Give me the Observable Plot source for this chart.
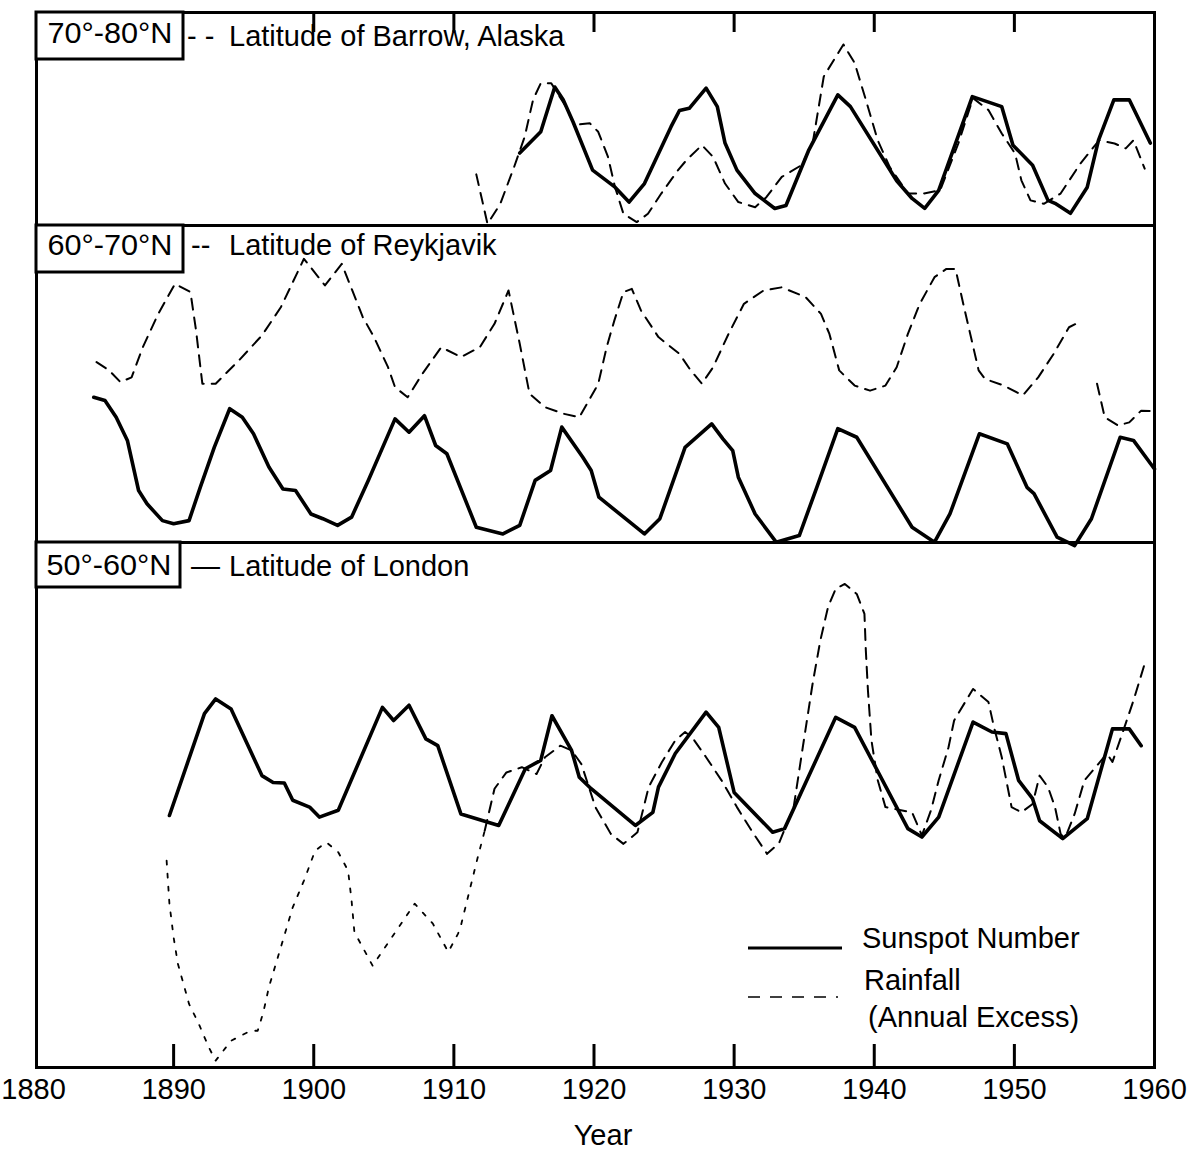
<!DOCTYPE html>
<html><head><meta charset="utf-8">
<script src="https://cdn.jsdelivr.net/npm/d3@7"></script>
<script src="https://cdn.jsdelivr.net/npm/@observablehq/plot@0.6"></script>
<style>
body{margin:0;background:#fff;}
#chart{position:relative;width:1189px;height:1152px;font-family:"Liberation Sans",Arial,Helvetica,sans-serif;color:#000;background:#fff;}
#chart svg{display:block;overflow:visible;}
#overlay{position:absolute;left:0;top:0;}
</style></head><body><div id="chart"></div>
<script>
// ---------- data (relative values: 0 = panel floor, 100 = panel top) ----------
// Panel 1: 70°-80°N, Barrow
const barrowSunYears = [1914.7,1916.2,1917.2,1917.8,1918.5,1919.9,1921.5,1922.5,1923.6,1925.5,1926.1,1926.8,1928.0,1928.8,1929.35,1930.2,1931.5,1932.9,1933.7,1935.3,1937.4,1938.3,1941.6,1942.7,1943.6,1944.6,1947.0,1949.1,1949.9,1951.3,1952.4,1952.9,1954.0,1955.2,1956.0,1957.1,1958.2,1959.7];
const barrowSunVals  = [34,44,65,59,48.7,26,18,11,19.7,46.4,54,55,64.5,55.8,38.7,26,15,8,9.4,35,61.3,55.8,21,12.7,8,16.5,60.5,55.8,37.7,28.3,11.8,10.4,5.7,18,40,59,59,38.7];
const barrowRainYears = [1911.6,1912.4,1913.3,1914.3,1915.05,1915.65,1916.2,1916.95,1917.4,1918.0,1918.6,1919.7,1920.3,1921.0,1921.5,1922.1,1923.05,1923.85,1924.8,1926.0,1926.6,1927.7,1928.5,1929.35,1930.3,1931.5,1932.3,1933.4,1934.8,1935.6,1936.4,1937.8,1938.6,1939.4,1940.25,1941.1,1942.4,1943.5,1944.7,1946.0,1947.05,1948.15,1949.1,1950.05,1950.5,1951.15,1952.1,1953.3,1954.7,1956.05,1957.15,1957.95,1958.5,1959.3];
const barrowRainVals  = [24,0.8,10,27.5,41.6,59,66.8,66.8,62,55.8,47.2,48,44,32.2,18,5.5,1.6,5.5,15,26,30.7,37.7,32.2,19.7,11,8.6,13.3,22.8,28.3,38.5,70,85,76.3,59,40,27.5,15,15,16.5,38.5,59.8,54.2,43.2,33.8,21.2,11.8,10.2,15,29,40,38.5,36.2,40,26.7];

// Panel 2: 60°-70°N, Reykjavik
const reykSunYears = [1884.3,1885.1,1885.9,1886.7,1887.5,1888.1,1889.2,1890.0,1891.1,1891.9,1892.9,1894.0,1894.9,1895.7,1896.8,1897.8,1898.7,1899.8,1900.65,1901.7,1902.7,1903.9,1905.8,1906.8,1907.9,1908.7,1909.5,1911.6,1913.5,1914.7,1915.8,1916.9,1917.7,1919.2,1919.8,1920.35,1923.6,1924.7,1926.5,1928.4,1929.2,1929.9,1930.3,1931.5,1933.0,1934.65,1935.9,1937.4,1938.75,1942.7,1944.3,1945.4,1947.5,1949.5,1950.9,1951.4,1953.05,1954.3,1955.5,1957.55,1958.5,1960];
const reykSunVals  = [45.8,44.8,39.5,32.2,16.4,12.2,6.9,5.9,6.9,17.4,30,42.2,39.5,34.3,23.8,16.9,16.4,9,7.5,5.4,8,19.6,39,34.8,40,30.6,28,4.8,2.7,5.4,19.6,22.7,36.4,26.9,22.7,14.3,2.7,7.5,30,37.4,32.7,29,20.6,9,0.1,2.2,17.4,35.9,33.2,4.8,0.1,9,34.3,31.1,17.4,15.4,1.7,-1,7.5,33.2,32.2,23.2];
const reykRainYears = [1884.5,1885.4,1886.2,1887.0,1887.8,1888.9,1890.1,1891.2,1891.6,1892.05,1893.0,1894.65,1896.3,1897.65,1899.3,1900.8,1902.0,1903.5,1904.3,1905.3,1905.8,1906.7,1907.75,1909.1,1910.5,1911.85,1912.9,1913.9,1914.7,1915.4,1916.5,1917.85,1918.95,1920.3,1920.9,1921.45,1922.1,1922.7,1923.35,1924.6,1926.1,1926.9,1927.7,1928.5,1929.6,1930.7,1932.1,1933.4,1935.1,1936.2,1936.8,1937.5,1938.6,1939.7,1940.8,1941.6,1942.4,1943.25,1944.3,1945.15,1945.8,1946.35,1946.9,1947.45,1947.9,1949.25,1950.6,1951.7,1952.8,1953.9,1954.4,1954.8,1955.3,1955.9,1956.45,1957.4,1958.2,1959.05,1960];
const reykRainVals  = [56.9,54.3,50.6,52.1,61.6,72.1,81.6,79,66.9,50.1,50.1,57.4,65.3,74.2,89.5,81.1,87.9,71.1,64.8,55.3,49,45.8,53.2,61.6,58.5,61.6,69,79.5,62.7,46.9,42.7,40.6,39.5,50,61.6,70,79,80,73.2,64.8,59.5,54.3,50.1,55.3,65.8,75.3,79.5,80.5,77.4,72.1,65.8,54.3,49.5,47.9,49.5,55.3,65.8,75.3,83.7,86.3,86.3,75.3,64.8,54.3,51.6,49.5,46.4,52.1,59.5,67.9,69,67.9,NaN,50.1,39.5,36.9,37.9,41.6,41.4];

// Panel 3: 50°-60°N, London
const londonSunYears = [1889.7,1892.2,1893.0,1894.1,1896.3,1897.1,1897.9,1898.5,1899.7,1900.4,1901.75,1904.9,1905.7,1906.8,1908.0,1908.85,1910.5,1913.2,1915.1,1916.2,1917.0,1918.4,1918.95,1919.8,1922.95,1924.2,1924.6,1925.8,1928.0,1928.9,1930.0,1932.75,1933.6,1937.25,1938.6,1942.4,1943.4,1944.6,1947.05,1948.4,1949.4,1950.3,1951.3,1951.8,1953.45,1955.2,1957.0,1958.2,1959.05];
const londonSunVals  = [48,67.4,70.2,68.3,55.6,54.3,54.2,50.9,49.6,47.7,49,68.6,66.1,69,62.6,61.3,48.3,46.1,56.9,58.5,67,60.4,55.3,53.1,46.1,48.6,53.4,59.8,67.7,64.8,52.4,44.8,45.5,66.7,64.8,45.5,43.9,47.7,65.8,63.9,63.6,54.7,51.2,47,43.6,47.4,64.5,64.5,61.3];
const londonRainYears = [1889.5,1889.7,1890.0,1890.3,1891.1,1891.8,1892.5,1893.0,1894.1,1895.5,1896.0,1896.4,1896.8,1897.65,1898.5,1899.3,1900.1,1900.9,1901.75,1902.45,1902.7,1902.9,1904.2,1907.2,1908.5,1909.6,1910.3,1910.5,1911.7,1912.2,1912.9,1913.75,1914.85,1915.9,1916.5,1917.6,1918.4,1919.1,1920.1,1921.2,1922.1,1923.1,1923.9,1924.85,1925.8,1926.5,1927.0,1928.0,1929.1,1930.2,1931.25,1932.35,1933.2,1934.25,1934.9,1935.6,1936.15,1936.7,1937.25,1937.9,1938.75,1939.3,1939.4,1939.55,1939.8,1940.25,1940.8,1941.9,1942.7,1943.4,1944.05,1944.6,1945.3,1945.7,1947.05,1948.15,1948.55,1949.1,1949.8,1950.5,1951.3,1951.8,1952.4,1952.9,1953.3,1953.6,1954.3,1955.0,1955.8,1956.6,1957.0,1957.7,1958.5,1959.3];
const londonRainVals  = [39.4,31.2,24.8,19.8,12.1,8.3,3.9,1.3,5.1,7,7,10.5,15.3,22.9,30.5,35.6,41.3,42.9,41,37.5,31.8,25.8,19.4,31.2,27.4,22,25.5,27,40,45.1,53.1,56.2,57.2,55.9,59.1,61.3,60.4,57.8,49.6,44.5,42.6,44.8,53.4,58.2,62.3,63.9,62.9,59.1,54.7,49.6,45.1,40.7,42.7,49.6,61,73.1,81.3,87.7,91.2,92.1,90.2,86.4,79.4,71.8,62.3,54.7,49.6,49,48.6,44.2,49,54.7,61,66.1,72.1,69.6,64.8,59.1,49.6,48.6,50.2,55.6,53.4,49.6,44.5,43.6,48.3,54.7,57.2,59.8,58.2,63.6,69.9,76.9];

const xTickLabels = [1880,1890,1900,1910,1920,1930,1940,1950,1960];
const topTickYears = [1890,1900,1910,1920,1930,1940,1950];
const bottomTickYears = [1890,1900,1910,1920,1930,1940,1950];
const panelLabels = ["70°-80°N","60°-70°N","50°-60°N"];
const panelTitles = ["Latitude of Barrow, Alaska","Latitude of Reykjavik","Latitude of London"];
const panelDashes = ["- -","--","—"];
const legendLabels = ["Sunspot Number","Rainfall","(Annual Excess)"];

// ---------- drawing ----------
const FONT = '"Liberation Sans", Arial, Helvetica, sans-serif';
const W = 1189, ML = 36, MR = 35;
const X_RANGE = [33, 1154];
const toRows = (xs, ys) => xs.map((x, i) => ({x, y: ys[i]}));
const sunStyle = {x: "x", y: "y", stroke: "black", strokeWidth: 3.6, strokeLinejoin: "round", strokeLinecap: "round"};
const rainStyle = {x: "x", y: "y", stroke: "black", strokeWidth: 2, strokeDasharray: "11,8", strokeLinejoin: "round"};
const faintRainStyle = {...rainStyle, strokeWidth: 1.8, strokeDasharray: "4,9"};

function panel({height, marginTop = 0, marginBottom = 0, marks, xAxis = false}) {
  return Plot.plot({
    width: W, height, marginTop, marginBottom, marginLeft: ML, marginRight: MR,
    x: xAxis ? {domain: [1880, 1960], range: X_RANGE} : {domain: [1880, 1960], range: X_RANGE, axis: null},
    y: {domain: [0, 100], axis: null},
    style: {background: "transparent", overflow: "visible", fontFamily: FONT, fontSize: "29px", color: "black"},
    marks
  });
}

const chart = document.getElementById("chart");
const londonRain = toRows(londonRainYears, londonRainVals);

const p1 = panel({
  height: 225, marginTop: 12,
  marks: [
    Plot.ruleX(topTickYears, {x: d => d, stroke: "black", strokeWidth: 3, insetBottom: 193}),
    Plot.line(toRows(barrowRainYears, barrowRainVals), rainStyle),
    Plot.line(toRows(barrowSunYears, barrowSunVals), sunStyle),
    Plot.frame({stroke: "black", strokeWidth: 3})
  ]
});
const p2 = panel({
  height: 317,
  marks: [
    Plot.line(toRows(reykRainYears, reykRainVals), rainStyle),
    Plot.line(toRows(reykSunYears, reykSunVals), sunStyle),
    Plot.frame({stroke: "black", strokeWidth: 3})
  ]
});
const p3 = panel({
  height: 610, marginBottom: 85, xAxis: true,
  marks: [
    Plot.ruleX(bottomTickYears, {x: d => d, stroke: "black", strokeWidth: 3, insetTop: 502}),
    Plot.line(londonRain.filter(d => d.x <= 1912.2), faintRainStyle),
    Plot.line(londonRain.filter(d => d.x >= 1912.2), rainStyle),
    Plot.line(toRows(londonSunYears, londonSunVals), sunStyle),
    Plot.frame({stroke: "black", strokeWidth: 3}),
    Plot.axisX(xTickLabels, {tickSize: 0, tickPadding: 11, tickFormat: d => String(d), fontSize: 29, fill: "black", label: null})
  ]
});
chart.append(p1, p2, p3);

// overlay: panel label boxes, titles, legend, axis title
const ov = d3.select(chart).append("svg").attr("id", "overlay")
  .attr("width", W).attr("height", 1152)
  .style("font-family", FONT).style("font-size", "29px");

const boxes = [
  {y: 12, h: 47, w: 147, tx: 110, ty: 43, titleY: 46, dashX: 187},
  {y: 225, h: 47, w: 147, tx: 110, ty: 255, titleY: 255, dashX: 191},
  {y: 542, h: 45, w: 144, tx: 109, ty: 575, titleY: 576, dashX: 191}
];
boxes.forEach((b, i) => {
  ov.append("rect").attr("x", ML).attr("y", b.y).attr("width", b.w).attr("height", b.h)
    .attr("fill", "white").attr("stroke", "black").attr("stroke-width", 3);
  ov.append("text").attr("x", b.tx).attr("y", b.ty).attr("text-anchor", "middle")
    .attr("textLength", 125).attr("lengthAdjust", "spacingAndGlyphs").text(panelLabels[i]);
  ov.append("text").attr("x", b.dashX).attr("y", b.titleY).text(panelDashes[i]);
  ov.append("text").attr("x", 229).attr("y", b.titleY).text(panelTitles[i]);
});

// legend
ov.append("line").attr("x1", 748).attr("x2", 842).attr("y1", 948).attr("y2", 948)
  .attr("stroke", "black").attr("stroke-width", 3);
ov.append("line").attr("x1", 748).attr("x2", 838).attr("y1", 997).attr("y2", 997)
  .attr("stroke", "black").attr("stroke-width", 1.5).attr("stroke-dasharray", "12,10");
ov.append("text").attr("x", 862).attr("y", 948).text(legendLabels[0]);
ov.append("text").attr("x", 864).attr("y", 990).text(legendLabels[1]);
ov.append("text").attr("x", 868).attr("y", 1027).text(legendLabels[2]);

// axis title
ov.append("text").attr("x", 603).attr("y", 1145).attr("text-anchor", "middle").text("Year");
</script></body></html>
